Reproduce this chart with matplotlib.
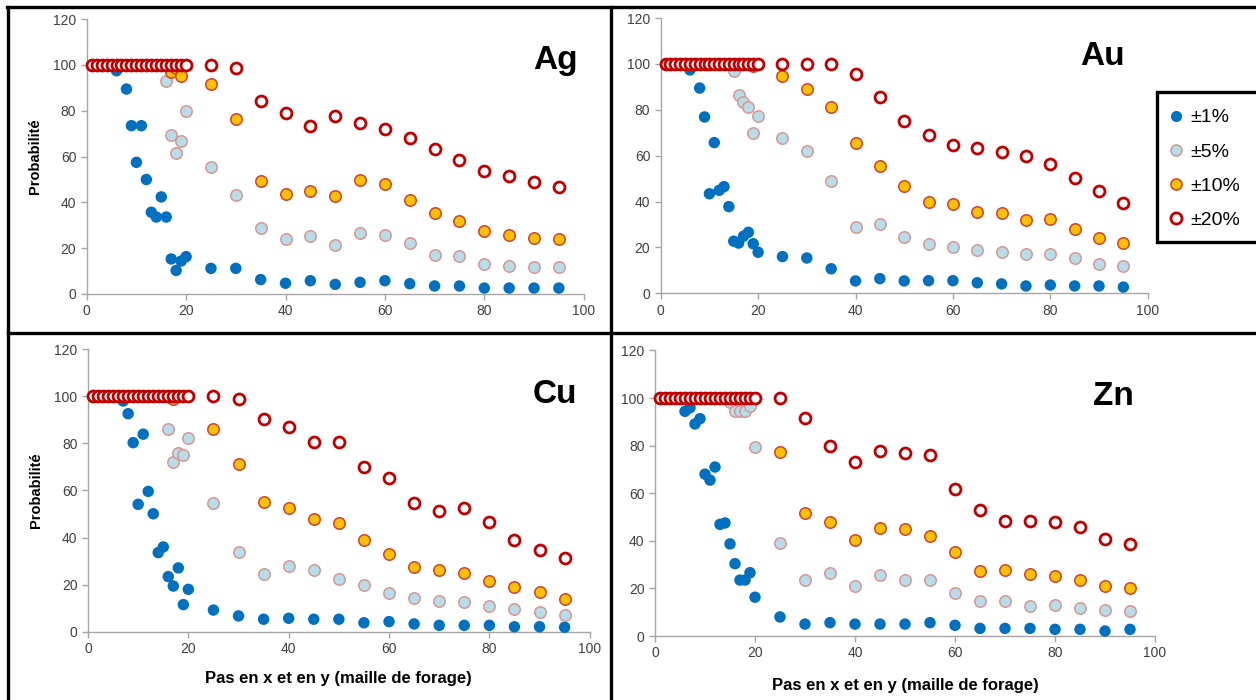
import matplotlib.pyplot as plt
from matplotlib.lines import Line2D
from matplotlib.patches import Rectangle

plt.rcParams['font.family'] = ['Liberation Sans', 'DejaVu Sans']

W, H = 1256, 700

x_steps = [1, 2, 3, 4, 5, 6, 7, 8, 9, 10, 11, 12, 13, 14, 15, 16, 17, 18, 19, 20,
           25, 30, 35, 40, 45, 50, 55, 60, 65, 70, 75, 80, 85, 90, 95]

series_labels = ['±1%', '±5%', '±10%', '±20%']

ag_1 = [100, 100, 100, 100, 100, 97.5, 100, 89.5, 73.5, 57.5, 73.5, 50, 35.7, 33.6, 42.4, 33.6, 15.3, 10.3, 14.4, 16.3,
        11.2, 11.2, 6.3, 4.7, 5.8, 4.2, 5.1, 5.8, 4.5, 3.5, 3.5, 2.6, 2.6, 2.6, 2.6]
ag_5 = [100, 100, 100, 100, 100, 100, 100, 100, 100, 100, 100, 100, 100, 100, 100, 93, 69.5, 61.7, 67, 80,
        55.3, 43.1, 28.8, 23.9, 25.3, 21.4, 26.8, 25.8, 22.3, 17.2, 16.7, 13.1, 12.2, 11.6, 11.6]
ag_10 = [100, 100, 100, 100, 100, 100, 100, 100, 100, 100, 100, 100, 100, 100, 100, 100, 97, 98.5, 95.3, 100,
         91.8, 76.6, 49.2, 43.7, 45.1, 42.8, 49.6, 48.2, 41.0, 35.5, 31.7, 27.6, 25.8, 24.5, 23.9]
ag_20 = [100, 100, 100, 100, 100, 100, 100, 100, 100, 100, 100, 100, 100, 100, 100, 100, 100, 100, 100, 100,
         100, 98.5, 84.4, 78.9, 73.2, 77.7, 74.8, 72.2, 68.1, 63.2, 58.5, 53.8, 51.5, 48.9, 46.9]

au_1 = [100, 100, 100, 100, 100, 97.4, 100, 89.5, 76.9, 43.4, 65.7, 44.9, 46.5, 37.8, 22.7, 21.9, 24.9, 26.6, 21.6, 17.9,
        16.0, 15.4, 10.7, 5.4, 6.4, 5.4, 5.5, 5.5, 4.6, 4.1, 3.2, 3.6, 3.2, 3.2, 2.7]
au_5 = [100, 100, 100, 100, 100, 100, 100, 100, 100, 100, 100, 100, 100, 100, 96.9, 86.3, 83.4, 81.2, 70.1, 77.5,
        67.6, 62.1, 48.8, 29.1, 30.2, 24.4, 21.3, 20.0, 18.9, 17.9, 17.0, 17.0, 15.3, 12.9, 11.8]
au_10 = [100, 100, 100, 100, 100, 100, 100, 100, 100, 100, 100, 100, 100, 100, 100, 100, 100, 100, 99, 100,
         94.9, 88.9, 81.4, 65.5, 55.5, 46.8, 39.7, 38.8, 35.6, 35.2, 32.1, 32.5, 28.2, 24.0, 22.1]
au_20 = [100, 100, 100, 100, 100, 100, 100, 100, 100, 100, 100, 100, 100, 100, 100, 100, 100, 100, 100, 100,
         100, 100, 100, 95.8, 85.8, 75.3, 69.2, 64.7, 63.2, 61.5, 60.0, 56.5, 50.1, 44.6, 39.4]

cu_1 = [100, 100, 100, 100, 100, 100, 98, 92.6, 80.3, 54.1, 83.9, 59.6, 50.1, 33.6, 36.0, 23.4, 19.4, 27.1, 11.5, 18.0,
        9.2, 6.7, 5.3, 5.7, 5.3, 5.3, 3.8, 4.3, 3.3, 2.7, 2.7, 2.7, 2.1, 2.1, 1.9]
cu_5 = [100, 100, 100, 100, 100, 100, 100, 100, 100, 100, 100, 100, 100, 100, 100, 86.0, 72.0, 75.8, 75.2, 82.4,
        54.8, 34.0, 24.4, 27.8, 26.3, 22.3, 19.8, 16.4, 14.3, 12.9, 12.5, 10.9, 9.5, 8.5, 7.1]
cu_10 = [100, 100, 100, 100, 100, 100, 100, 100, 100, 100, 100, 100, 100, 100, 100, 100, 99, 100, 100, 100,
         86.0, 71.3, 55.0, 52.6, 48.0, 46.0, 39.1, 32.9, 27.4, 26.2, 24.9, 21.4, 18.8, 17.0, 13.9]
cu_20 = [100, 100, 100, 100, 100, 100, 100, 100, 100, 100, 100, 100, 100, 100, 100, 100, 100, 100, 100, 100,
         100, 99.0, 90.5, 87.1, 80.7, 80.5, 70.0, 65.4, 54.7, 51.1, 52.7, 46.6, 38.8, 34.8, 31.5]

zn_1 = [100, 100, 100, 100, 100, 94.4, 95.9, 89.1, 91.3, 68.0, 65.5, 71.0, 46.9, 47.5, 38.7, 30.4, 23.5, 23.5, 26.6, 16.3,
        8.0, 5.0, 5.6, 5.0, 5.0, 5.0, 5.6, 4.5, 3.2, 3.2, 3.2, 2.8, 2.8, 2.1, 2.8]
zn_5 = [100, 100, 100, 100, 100, 100, 100, 100, 100, 100, 100, 100, 100, 100, 98.3, 94.4, 94.4, 94.4, 96.8, 79.5,
        39.0, 23.4, 26.5, 21.0, 25.8, 23.4, 23.4, 18.1, 14.7, 14.7, 12.6, 13.2, 11.8, 10.8, 10.4]
zn_10 = [100, 100, 100, 100, 100, 100, 100, 100, 100, 100, 100, 100, 100, 100, 100, 100, 100, 100, 100, 100,
         77.2, 51.8, 47.9, 40.5, 45.4, 44.8, 42.0, 35.2, 27.2, 27.6, 26.1, 25.2, 23.4, 21.0, 20.0]
zn_20 = [100, 100, 100, 100, 100, 100, 100, 100, 100, 100, 100, 100, 100, 100, 100, 100, 100, 100, 100, 100,
         100, 91.5, 80.0, 73.0, 77.9, 77.0, 75.9, 61.8, 52.9, 48.4, 48.4, 47.9, 45.7, 40.6, 38.8]

# marker styles for the four tolerance series
styles = [
    dict(s=68, facecolor='#0070C0', edgecolor='none'),
    dict(s=68, facecolor='#B7DDE8', edgecolor='#D99694', linewidths=1.1),
    dict(s=68, facecolor='#FFC000', edgecolor='#D0422E', linewidths=1.1),
    dict(s=62, facecolor='white', edgecolor='#C00000', linewidths=2.0),
]

panels = [
    ('Ag', [ag_1, ag_5, ag_10, ag_20], (86.7, 583.7, 19.2, 294.0), (578, 69), True, None),
    ('Au', [au_1, au_5, au_10, au_20], (660.7, 1147.7, 18.1, 293.3), (1125, 65), False, None),
    ('Cu', [cu_1, cu_5, cu_10, cu_20], (88.0, 589.7, 349.2, 631.7), (577, 403), True, 11),
    ('Zn', [zn_1, zn_5, zn_10, zn_20], (655.0, 1155.0, 350.4, 636.0), (1134, 405), False, 12.5),
]

fig = plt.figure(figsize=(W / 100, H / 100), dpi=100)

for name, series, (l, r, t, b), (tx, ty), ylab, xpad in panels:
    ax = fig.add_axes([l / W, 1 - b / H, (r - l) / W, (b - t) / H])
    for vals, st in zip(series, styles):
        ax.scatter(x_steps, vals, clip_on=False, zorder=3, **st)
    ax.set_xlim(0, 100)
    ax.set_ylim(0, 120)
    ax.set_xticks([0, 20, 40, 60, 80, 100])
    ax.set_yticks([0, 20, 40, 60, 80, 100, 120])
    for side in ['top', 'right']:
        ax.spines[side].set_visible(False)
    for side in ['left', 'bottom']:
        ax.spines[side].set_color('#A6A6A6')
        ax.spines[side].set_linewidth(1.0)
    ax.tick_params(colors='#A6A6A6', labelcolor='#404040', labelsize=10, length=4, width=1.0)
    if ylab:
        ax.set_ylabel('Probabilité', fontsize=10.5, fontweight='bold', labelpad=8)
    if xpad is not None:
        ax.set_xlabel('Pas en x et en y (maille de forage)', fontsize=12, fontweight='bold', labelpad=xpad)
    fig.text(tx / W, 1 - ty / H, name, ha='right', va='baseline', fontsize=24, fontweight='bold')

# panel borders
border = dict(color='black', lw=2.4, transform=fig.transFigure)
fig.add_artist(Line2D([7 / W, 1], [1 - 7 / H, 1 - 7 / H], **border))
fig.add_artist(Line2D([8 / W, 8 / W], [0, 1 - 7 / H], **border))
fig.add_artist(Line2D([611 / W, 611 / W], [0, 1 - 7 / H], **border))
fig.add_artist(Line2D([8 / W, 1], [1 - 333 / H, 1 - 333 / H], **border))

# legend box
fig.add_artist(Rectangle((1157 / W, 1 - 242 / H), 110 / W, 150 / H, transform=fig.transFigure,
                         facecolor='white', edgecolor='black', lw=2.4, zorder=5))
handles = [Line2D([], [], linestyle='none', marker='o', markersize=8,
                  markerfacecolor=st['facecolor'], markeredgecolor=st['edgecolor'],
                  markeredgewidth=st.get('linewidths', 0)) for st in styles]
leg = fig.legend(handles, series_labels, loc='upper left', bbox_to_anchor=(1158 / W, 1 - 101 / H),
                 frameon=False, fontsize=14, handletextpad=0.15, handlelength=1.1,
                 labelspacing=0.85, borderaxespad=0)
leg.set_zorder(6)

fig.savefig('out.png', dpi=100)
